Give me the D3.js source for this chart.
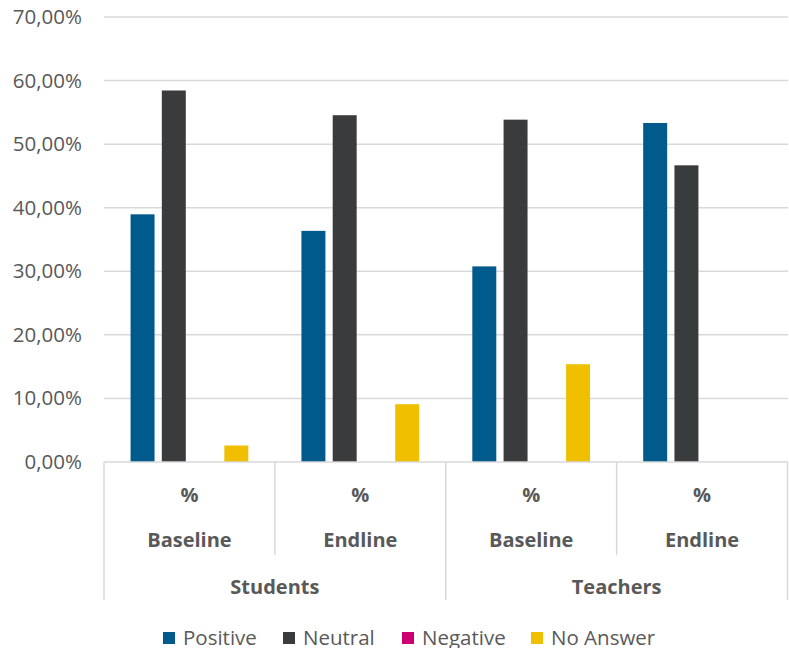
<!DOCTYPE html>
<html>
<head>
<meta charset="utf-8">
<script src="https://cdn.jsdelivr.net/npm/d3@7"></script>
<style>
  html, body { margin: 0; padding: 0; background: #fff; }
  svg text { font-family: "Open Sans", "Liberation Sans", sans-serif; fill: #595959; }
</style>
</head>
<body>
<svg id="chart" width="789" height="648"></svg>
<script>
// data
const groups = ["Students", "Teachers"];
const phases = ["Baseline", "Endline"];
const series = ["Positive", "Neutral", "Negative", "No Answer"];
const colors = ["#005A8B", "#3A3B3D", "#CC0070", "#F0C000"];
const positive = [0.3896, 0.3636, 0.3077, 0.5333];
const neutral = [0.5844, 0.5455, 0.5385, 0.4667];
const negative = [0, 0, 0, 0];
const noAnswer = [0.026, 0.0909, 0.1538, 0];
const yTicks = [0, 0.1, 0.2, 0.3, 0.4, 0.5, 0.6, 0.7];

const values = [positive, neutral, negative, noAnswer];
const cats = [];
groups.forEach(g => phases.forEach(p => cats.push({ group: g, phase: p, key: g + "|" + p })));

const margin = { top: 17, left: 104, right: 1, bottom: 186 };
const width = 789 - margin.left - margin.right;
const height = 648 - margin.top - margin.bottom;

const svg = d3.select("#chart");
const g = svg.append("g").attr("transform", `translate(${margin.left},${margin.top})`);

const x = d3.scaleBand().domain(cats.map(d => d.key)).range([0, width - 0.5]);
const xInner = d3.scaleBand().domain(series).range([0, x.bandwidth()])
  .paddingInner(0.233).paddingOuter(0.85);
const y = d3.scaleLinear().domain([0, 0.7]).range([height, 0]);

const locale = d3.formatLocale({ decimal: ",", thousands: ".", grouping: [3], currency: ["", "€"] });
const fmt = locale.format(".2%");

// gridlines
g.append("g")
  .selectAll("line")
  .data(yTicks.slice(1))
  .join("line")
  .attr("x1", 0).attr("x2", width)
  .attr("y1", d => y(d)).attr("y2", d => y(d))
  .attr("stroke", "#D9D9D9").attr("stroke-width", 1.5);

// y axis labels
const yAxis = d3.axisLeft(y).tickValues(yTicks).tickFormat(fmt).tickSize(0).tickPadding(22);
const ya = g.append("g").call(yAxis);
ya.select(".domain").remove();
ya.selectAll("text").attr("font-size", 20.5).attr("font-family", null).attr("fill", "#595959");

// bars
cats.forEach((c, i) => {
  const cg = g.append("g").attr("transform", `translate(${x(c.key)},0)`);
  cg.selectAll("rect")
    .data(series.map((s, j) => ({ s, v: values[j][i], c: colors[j] })))
    .join("rect")
    .attr("x", d => xInner(d.s))
    .attr("width", xInner.bandwidth())
    .attr("y", d => y(d.v))
    .attr("height", d => height - y(d.v))
    .attr("fill", d => d.c);
});

// category axis
const ax = g.append("g").attr("transform", `translate(0,${height})`);
ax.append("line").attr("x1", 0).attr("x2", width).attr("y1", 0).attr("y2", 0)
  .attr("stroke", "#D9D9D9").attr("stroke-width", 1.5);

const bounds = d3.range(cats.length + 1).map(i => i * x.step());
ax.selectAll("line.div")
  .data(bounds)
  .join("line")
  .attr("class", "div")
  .attr("x1", d => d).attr("x2", d => d)
  .attr("y1", 0)
  .attr("y2", (d, i) => (i % phases.length === 0 ? 138 : 93))
  .attr("stroke", "#D9D9D9").attr("stroke-width", 1.5);

const lbl = ax.selectAll("g.cat")
  .data(cats)
  .join("g")
  .attr("class", "cat")
  .attr("transform", d => `translate(${x(d.key) + x.bandwidth() / 2},0)`);
lbl.append("text").text("%").attr("y", 33).attr("dy", "0.35em")
  .attr("text-anchor", "middle").attr("font-size", 20).attr("font-weight", "bold");
lbl.append("text").text(d => d.phase).attr("y", 78).attr("dy", "0.35em")
  .attr("text-anchor", "middle").attr("font-size", 20).attr("font-weight", "bold");

ax.selectAll("text.grp")
  .data(groups)
  .join("text")
  .attr("class", "grp")
  .attr("x", (d, i) => (i + 0.5) * x.step() * phases.length)
  .attr("y", 125).attr("dy", "0.35em")
  .attr("text-anchor", "middle").attr("font-size", 20).attr("font-weight", "bold")
  .text(d => d);

// legend
const legendX = [163, 283, 402, 531];
const legend = svg.append("g").attr("transform", "translate(0,638)");
const li = legend.selectAll("g")
  .data(series)
  .join("g")
  .attr("transform", (d, i) => `translate(${legendX[i]},0)`);
li.append("rect").attr("x", 0).attr("y", -6).attr("width", 12).attr("height", 12)
  .attr("fill", (d, i) => colors[i]);
li.append("text").attr("x", 20).attr("y", 0).attr("dy", "0.35em")
  .attr("font-size", 20.5).text(d => d);
</script>
</body>
</html>
